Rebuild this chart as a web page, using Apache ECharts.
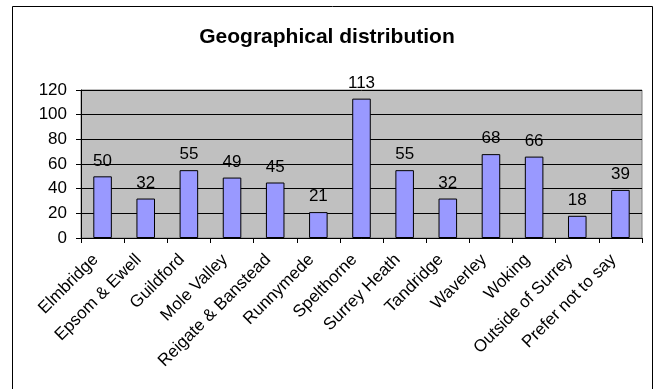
<!DOCTYPE html>
<html>
<head>
<meta charset="utf-8">
<script src="https://cdn.jsdelivr.net/npm/echarts@6/dist/echarts.min.js"></script>
<style>
  html, body { margin: 0; padding: 0; background: #fff; }
  #chart { width: 654px; height: 389px; }
</style>
</head>
<body>
<div id="chart"></div>
<script>
// Respondents by area
const areas = [
  'Elmbridge', 'Epsom & Ewell', 'Guildford', 'Mole Valley', 'Reigate & Banstead',
  'Runnymede', 'Spelthorne', 'Surrey Heath', 'Tandridge', 'Waverley', 'Woking',
  'Outside of Surrey', 'Prefer not to say'
];
const counts = [50, 32, 55, 49, 45, 21, 113, 55, 32, 68, 66, 18, 39];
const yTicks = { min: 0, max: 120, step: 20 };

const font = 'Arial, "Liberation Sans", sans-serif';
const chart = echarts.init(document.getElementById('chart'), null, { renderer: 'canvas' });

chart.setOption({
  animation: false,
  backgroundColor: '#fff',
  title: {
    text: 'Geographical distribution',
    left: 'center',
    top: 22,
    textStyle: { fontFamily: font, fontSize: 21, fontWeight: 'bold', color: '#000' }
  },
  graphic: [{
    type: 'rect',
    shape: { x: 12.5, y: 6.5, width: 640, height: 400 },
    style: { fill: 'none', stroke: '#000', lineWidth: 1 },
    silent: true
  }],
  grid: {
    left: 81, right: 12, top: 90, height: 148,
    show: true, backgroundColor: '#C0C0C0', borderColor: '#808080', borderWidth: 1
  },
  xAxis: {
    type: 'category',
    data: areas,
    boundaryGap: true,
    axisLine: { lineStyle: { color: '#000', width: 1 } },
    axisTick: { show: true, alignWithLabel: false, length: 5, lineStyle: { color: '#000' } },
    axisLabel: {
      interval: 0, rotate: 45, margin: 12, padding: [0, 10, 0, 0],
      fontFamily: font, fontSize: 17, color: '#000'
    },
    splitLine: { show: false }
  },
  yAxis: {
    type: 'value',
    min: yTicks.min, max: yTicks.max, interval: yTicks.step,
    axisLine: { show: true, lineStyle: { color: '#000', width: 1 } },
    axisTick: { show: true, length: 5, lineStyle: { color: '#000' } },
    axisLabel: { fontFamily: font, fontSize: 17, color: '#000', margin: 14 },
    splitLine: { show: true, lineStyle: { color: '#000', width: 1 } }
  },
  series: [{
    type: 'bar',
    data: counts,
    barWidth: '43%',
    itemStyle: { color: '#9999FF', borderColor: '#000', borderWidth: 1 },
    label: {
      show: true, position: 'top', distance: 7,
      fontFamily: font, fontSize: 17, color: '#000'
    }
  }]
});
</script>
</body>
</html>
